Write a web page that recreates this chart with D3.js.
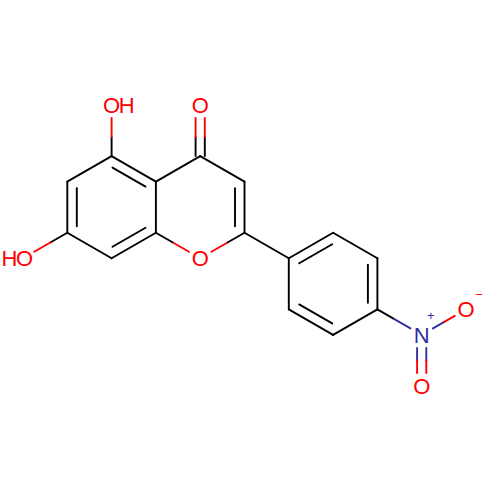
<!DOCTYPE html>
<html>
<head>
<meta charset="utf-8">
<script src="https://cdnjs.cloudflare.com/ajax/libs/d3/7.8.5/d3.min.js"></script>
<style>
  html, body { margin: 0; padding: 0; background: #fff; }
  svg { display: block; }
  text { font-family: "Liberation Sans", Arial, sans-serif; }
</style>
</head>
<body>
<div id="chart"></div>
<script>
// atoms on a hex grid: x in half-widths of a ring, y in bond lengths
const atomNames = ["OH5","C5","C6","C7","C8","C8a","C4a","C4","O4","C3","C2","O1","OH7",
                   "C1p","C2p","C3p","C4p","C5p","C6p","N","Om","Od"];
const atomX = [2,2,1,1,2,3,3,4,4,5,5,4,0, 6,7,8,8,7,6, 9,10,9];
const atomY = [0,1,1.5,2.5,3,2.5,1.5,1,0,1.5,2.5,3,3, 3,2.5,3,4,4.5,4, 4.5,4,5.5];
const atomElement = ["O","C","C","C","C","C","C","C","O","C","C","O","O",
                     "C","C","C","C","C","C","N","O","O"];

// bonds: pairs of atoms and their order
const bondFrom  = ["C5","C5","C6","C7","C8","C8a","C4a","C4","C4","C3","C2","O1","O1","C7",
                   "C2","C1p","C2p","C3p","C4p","C5p","C6p","C4p","N","N"];
const bondTo    = ["OH5","C6","C7","C8","C8a","C4a","C5","O4","C4a","C4","C3","C8a","C2","OH7",
                   "C1p","C2p","C3p","C4p","C5p","C6p","C1p","N","Om","Od"];
const bondOrder = [1,1,2,1,2,1,2,2,1,1,2,1,1,1, 1,2,1,2,1,2,1,1,1,2];

// atom labels
const labelAtoms = ["OH5","O4","O1","OH7","N","Om","Od"];
const labelTexts = ["OH","O","O","HO","N","O","O"];
const chargeAtoms = ["N","Om"];
const chargeTexts = ["+","\u2212"];

const width = 500, height = 500;
const fontSize = 22;
const colors = { C: "#000000", O: "#ff0000", N: "#30309f" };
const trim = { C: 0, O: 13, N: 13 };

const x = d3.scaleLinear().domain([0, 10]).range([23, 466]);
const y = d3.scaleLinear().domain([0, 5.5]).range([105, 386]);

const svg = d3.select("#chart").append("svg")
  .attr("width", width)
  .attr("height", height)
  .style("background", "#fff");

const atoms = new Map(atomNames.map((n, i) => [n, {
  name: n, px: x(atomX[i]), py: y(atomY[i]), el: atomElement[i]
}]));

const ringCentres = [
  [2, 2], [4, 2], [7, 3.5]
].map(c => [x(c[0]), y(c[1])]);

// build the two coloured halves of one stroke
function segments(a, b, ox, oy, t0, t1, cA, cB) {
  const dx = b.px - a.px, dy = b.py - a.py;
  const len = Math.hypot(dx, dy);
  const ux = dx / len, uy = dy / len;
  const p0 = [a.px + ux * t0 + ox, a.py + uy * t0 + oy];
  const p1 = [b.px - ux * t1 + ox, b.py - uy * t1 + oy];
  const m = [(p0[0] + p1[0]) / 2, (p0[1] + p1[1]) / 2];
  if (cA === cB) return [{ p: p0, q: p1, c: cA }];
  return [{ p: p0, q: m, c: cA }, { p: m, q: p1, c: cB }];
}

const strokes = [];
bondFrom.forEach((from, i) => {
  const a = atoms.get(from), b = atoms.get(bondTo[i]);
  const ta = trim[a.el], tb = trim[b.el];
  const ca = colors[a.el], cb = colors[b.el];
  const hetero = a.el !== "C" || b.el !== "C";
  if (bondOrder[i] === 1) {
    strokes.push(...segments(a, b, 0, 0, ta, tb, ca, cb));
  } else if (hetero) {
    // C=O and N=O: two lines either side of the axis
    const dx = b.px - a.px, dy = b.py - a.py, len = Math.hypot(dx, dy);
    const nx = -dy / len * 4.6, ny = dx / len * 4.6;
    strokes.push(...segments(a, b, nx, ny, ta, tb, ca, cb));
    strokes.push(...segments(a, b, -nx, -ny, ta, tb, ca, cb));
  } else {
    // ring double bond: main line plus a shorter inner line towards the ring centre
    strokes.push(...segments(a, b, 0, 0, 0, 0, ca, cb));
    const mx = (a.px + b.px) / 2, my = (a.py + b.py) / 2;
    const dx = b.px - a.px, dy = b.py - a.py, len = Math.hypot(dx, dy);
    let nx = -dy / len, ny = dx / len;
    const centre = d3.least(ringCentres, c => Math.hypot(c[0] - mx, c[1] - my));
    if ((centre[0] - mx) * nx + (centre[1] - my) * ny < 0) { nx = -nx; ny = -ny; }
    strokes.push(...segments(a, b, nx * 9.5, ny * 9.5, 6.5, 6.5, ca, cb));
  }
});

svg.append("g")
  .attr("fill", "none")
  .attr("stroke-width", 1.9)
  .attr("stroke-linecap", "round")
  .selectAll("line")
  .data(strokes)
  .join("line")
  .attr("x1", d => d.p[0])
  .attr("y1", d => d.p[1])
  .attr("x2", d => d.q[0])
  .attr("y2", d => d.q[1])
  .attr("stroke", d => d.c);

// labels: the element letter itself is centred on its atom
const letterHalf = { O: fontSize * 0.389, N: fontSize * 0.361 };
svg.append("g")
  .selectAll("text")
  .data(labelAtoms.map((n, i) => ({ atom: atoms.get(n), text: labelTexts[i] })))
  .join("text")
  .attr("x", d => d.text === "HO"
    ? d.atom.px + letterHalf.O
    : d.atom.px - letterHalf[d.atom.el])
  .attr("y", d => d.atom.py + fontSize * 0.35)
  .attr("text-anchor", d => d.text === "HO" ? "end" : "start")
  .attr("font-size", fontSize)
  .attr("letter-spacing", d => d.text.length > 1 ? -1.5 : 0)
  .attr("fill", d => colors[d.atom.el])
  .text(d => d.text);

// charges, up and to the right of the atom
svg.append("g")
  .selectAll("text")
  .data(chargeAtoms.map((n, i) => ({ atom: atoms.get(n), text: chargeTexts[i] })))
  .join("text")
  .attr("x", d => d.atom.px + (d.atom.el === "N" ? 9 : 13))
  .attr("y", d => d.atom.py - (d.atom.el === "N" ? 15 : 10))
  .attr("text-anchor", "middle")
  .attr("font-size", 13)
  .attr("fill", d => colors[d.atom.el])
  .text(d => d.text);
</script>
</body>
</html>
